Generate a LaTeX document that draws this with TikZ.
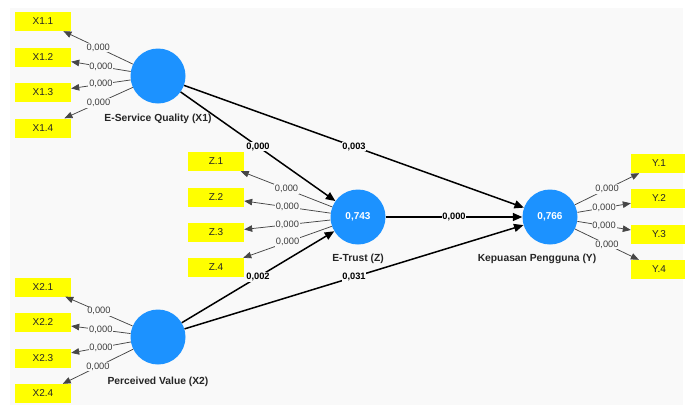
\documentclass[tikz,border=0pt]{standalone}
\usepackage{fontspec}
\setmainfont{Liberation Sans}
\usetikzlibrary{arrows.meta}
\definecolor{canvas}{RGB}{249,249,249}
\definecolor{lvblue}{RGB}{28,146,255}
\definecolor{indyellow}{RGB}{255,255,0}
\definecolor{loadline}{RGB}{70,70,70}
\definecolor{loadtext}{RGB}{60,60,60}
\tikzset{
  indicator/.style={rectangle, fill=indyellow, minimum width=56pt, minimum height=19pt,
    inner sep=0pt, font=\fontsize{10}{12}\selectfont, text=black!85},
  latent/.style={circle, fill=lvblue, minimum size=55pt, inner sep=0pt,
    font=\fontsize{10}{12}\selectfont\bfseries, text=white},
  lvname/.style={font=\fontsize{10.3}{12}\selectfont\bfseries, text=black!85},
  loading/.style={draw=loadline, line width=0.75pt,
    -{Triangle[length=8pt,width=6.5pt]}},
  loadval/.style={fill=canvas, inner sep=0.8pt, font=\fontsize{9.3}{11}\selectfont, text=loadtext},
  structpath/.style={draw=black, line width=1.5pt,
    -{Triangle[length=9.5pt,width=8pt]}},
  pathval/.style={fill=canvas, inner sep=0.8pt, font=\fontsize{9.3}{11}\selectfont\bfseries, text=black}
}
\begin{document}
\begin{tikzpicture}[x=1pt,y=-1pt]
  \useasboundingbox (0,0) rectangle (685,405);
  \fill[white] (0,0) rectangle (685,405);
  \fill[canvas] (10,8) rectangle (683,405);

  % latent variables
  \node[latent] (x1) at (158,76) {};
  \node[latent] (x2) at (158,337) {};
  \node[latent] (z) at (358,217) {0,743};
  \node[latent] (y) at (550,217) {0,766};

  \node[lvname] (x1n) at (158,119) {E-Service Quality (X1)};
  \node[lvname] (x2n) at (158,382) {Perceived Value (X2)};
  \node[lvname] (zn) at (358,259) {E-Trust (Z)};
  \node[lvname] (yn) at (537,259) {Kepuasan Pengguna (Y)};

  % indicators
  \node[indicator] (x11) at (43,21.5) {X1.1};
  \node[indicator] (x12) at (43,57) {X1.2};
  \node[indicator] (x13) at (43,92.5) {X1.3};
  \node[indicator] (x14) at (43,128) {X1.4};

  \node[indicator] (x21) at (43,287) {X2.1};
  \node[indicator] (x22) at (43,322.5) {X2.2};
  \node[indicator] (x23) at (43,358) {X2.3};
  \node[indicator] (x24) at (43,393.5) {X2.4};

  \node[indicator] (z1) at (216,161.5) {Z.1};
  \node[indicator] (z2) at (216,197) {Z.2};
  \node[indicator] (z3) at (216,232.5) {Z.3};
  \node[indicator] (z4) at (216,267.5) {Z.4};

  \node[indicator] (y1) at (659,163.5) {Y.1};
  \node[indicator] (y2) at (659,198.5) {Y.2};
  \node[indicator] (y3) at (659,234.5) {Y.3};
  \node[indicator] (y4) at (659,269.5) {Y.4};

  % outer loadings
  \foreach \lv/\ind in {x1/x11,x1/x12,x1/x13,x1/x14,x2/x21,x2/x22,x2/x23,x2/x24,
                        z/z1,z/z2,z/z3,z/z4,y/y1,y/y2,y/y3,y/y4}
    \draw[loading] (\lv) -- node[loadval] {0,000} (\ind);

  % inner model
  \draw[structpath] (x1) -- node[pathval] {0,000} (z);
  \draw[structpath] (x1) -- node[pathval] {0,003} (y);
  \draw[structpath] (x2) -- node[pathval] {0,002} (z);
  \draw[structpath] (x2) -- node[pathval] {0,031} (y);
  \draw[structpath] (z) -- node[pathval] {0,000} (y);
\end{tikzpicture}
\end{document}
